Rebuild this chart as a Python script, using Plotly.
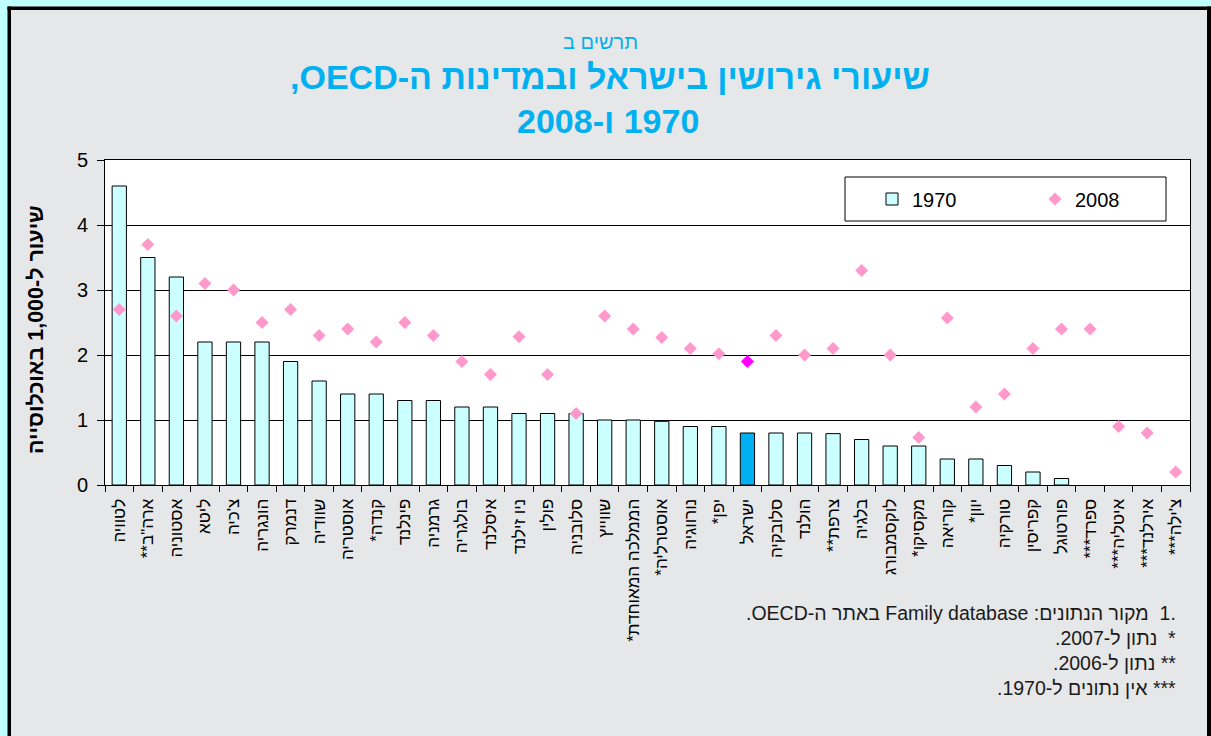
import plotly.graph_objects as go

countries = ["לטוויה", "ארה\"ב**", "אסטוניה", "ליטא", "צ'כיה", "הונגריה", "דנמרק", "שוודיה",
             "אוסטריה", "קנדה*", "פינלנד", "גרמניה", "בולגריה", "איסלנד", "ניו זילנד", "פולין",
             "סלובניה", "שווייץ", "הממלכה המאוחדת*", "אוסטרליה*", "נורווגיה", "יפן*", "ישראל",
             "סלובקיה", "הולנד", "צרפת**", "בלגיה", "לוקסמבורג", "מקסיקו*", "קוריאה", "יוון*",
             "טורקיה", "קפריסין", "פורטוגל", "ספרד***", "איטליה***", "אירלנד***", "צ'ילה***"]
v1970 = [4.6, 3.5, 3.2, 2.2, 2.2, 2.2, 1.9, 1.6, 1.4, 1.4, 1.3, 1.3, 1.2, 1.2, 1.1, 1.1, 1.1,
         1.0, 1.0, 0.98, 0.9, 0.9, 0.8, 0.8, 0.8, 0.79, 0.7, 0.6, 0.6, 0.4, 0.4, 0.3, 0.2, 0.1,
         None, None, None, None]
v2008 = [2.7, 3.7, 2.6, 3.1, 3.0, 2.5, 2.7, 2.3, 2.4, 2.2, 2.5, 2.3, 1.9, 1.7, 2.28, 1.7, 1.1,
         2.6, 2.4, 2.27, 2.1, 2.02, 1.9, 2.3, 2.0, 2.1, 3.3, 2.0, 0.73, 2.57, 1.2, 1.4, 2.1, 2.4,
         2.4, 0.9, 0.8, 0.2]
highlight = "ישראל"
series_names = ["1970", "2008"]
y_ticks = [0, 1, 2, 3, 4, 5]

subtitle = "תרשים ב"
title1 = "שיעורי גירושין בישראל ובמדינות ה-OECD,"
title2 = "1970 ו-2008"
y_title = "שיעור ל-1,000 באוכלוסייה"
footnotes = ["\u200E1.\u200E  מקור הנתונים: Family database באתר ה-OECD.",
             "*  נתון ל-2007.",
             "** נתון ל-2006.",
             "*** אין נתונים ל-1970."]

RLE, PDF = "\u202B", "\u202C"
def rtl(s):
    return RLE + s + PDF

labels = [rtl(c) for c in countries]

W, H = 1211, 736
L, R, T, B = 105, 1190, 160, 485
def px(x):
    return (x - L) / (R - L)
def py(y):
    return (B - y) / (B - T)

BAR = "#CCFFFF"
BAR_HI = "#00B0F0"
DIA = "#FF99CC"
DIA_HI = "#FF00FF"
CYAN_T = "#00B0F0"
FONT = "Arial, Liberation Sans, DejaVu Sans, sans-serif"

fig = go.Figure()
fig.add_trace(go.Bar(
    x=labels, y=v1970, name=series_names[0],
    marker=dict(color=[BAR_HI if c == highlight else BAR for c in countries],
                line=dict(color="black", width=1)),
))
fig.add_trace(go.Scatter(
    x=labels, y=v2008, name=series_names[1], mode="markers",
    marker=dict(symbol="diamond", size=10,
                color=[DIA_HI if c == highlight else DIA for c in countries]),
))

shapes = [
    # legend box
    dict(type="rect", xref="paper", yref="paper", x0=px(845), x1=px(1166), y0=py(221), y1=py(177),
         fillcolor="white", line=dict(color="black", width=1), layer="above"),
    # outer frame
    dict(type="rect", xref="paper", yref="paper", x0=px(0), x1=px(7.5), y0=py(736), y1=py(0),
         fillcolor="#C0FFFF", line=dict(width=0), layer="above"),
    dict(type="rect", xref="paper", yref="paper", x0=px(0), x1=px(1211), y0=py(6.5), y1=py(0),
         fillcolor="#C0FFFF", line=dict(width=0), layer="above"),
    dict(type="rect", xref="paper", yref="paper", x0=px(7.5), x1=px(11), y0=py(736), y1=py(6.5),
         fillcolor="black", line=dict(width=0), layer="above"),
    dict(type="rect", xref="paper", yref="paper", x0=px(7.5), x1=px(1211), y0=py(10), y1=py(6.5),
         fillcolor="black", line=dict(width=0), layer="above"),
    dict(type="rect", xref="paper", yref="paper", x0=px(1207), x1=px(1211), y0=py(736), y1=py(6.5),
         fillcolor="black", line=dict(width=0), layer="above"),
]

annotations = [
    dict(text=rtl(subtitle), x=px(600), y=py(42), xref="paper", yref="paper", showarrow=False,
         xanchor="center", yanchor="middle", font=dict(size=20, color=CYAN_T, family=FONT)),
    dict(text="<b>" + rtl(title1) + "</b>", x=px(610), y=py(77), xref="paper", yref="paper",
         showarrow=False, xanchor="center", yanchor="middle",
         font=dict(size=34, color=CYAN_T, family=FONT)),
    dict(text="<b>" + rtl(title2) + "</b>", x=px(608), y=py(121), xref="paper", yref="paper",
         showarrow=False, xanchor="center", yanchor="middle",
         font=dict(size=34, color=CYAN_T, family=FONT)),
    dict(text="<b>" + rtl(y_title) + "</b>", x=px(36), y=py(330), xref="paper", yref="paper",
         showarrow=False, textangle=-90, xanchor="center", yanchor="middle",
         font=dict(size=21.5, color="black", family=FONT)),
]
for i, fn in enumerate(footnotes):
    annotations.append(dict(text=rtl(fn), x=px(1178), y=py(613 + 25 * i), xref="paper", yref="paper",
                            showarrow=False, xanchor="right", yanchor="middle",
                            font=dict(size=19.5, color="#1a1a1a", family=FONT)))

fig.update_layout(
    width=W, height=H, autosize=False,
    margin=dict(l=L, r=W - R, t=T, b=H - B, autoexpand=False),
    paper_bgcolor="#E6E7E9", plot_bgcolor="white",
    font=dict(family=FONT, color="black"),
    bargap=0.5,
    showlegend=True,
    legend=dict(orientation="h", x=px(872), y=py(199), xanchor="left", yanchor="middle",
                bgcolor="rgba(0,0,0,0)", borderwidth=0, font=dict(size=20, color="black"),
                entrywidth=118, entrywidthmode="pixels", traceorder="normal"),
    shapes=shapes, annotations=annotations,
    xaxis=dict(type="category", range=[-0.5, len(countries) - 0.5], autorange=False,
               tickangle=-90, tickfont=dict(size=17, color="black"),
               showline=True, linecolor="black", linewidth=1, mirror=True,
               ticks="outside", ticklen=6, tickcolor="black", tickson="boundaries",
               ticklabelstandoff=6,
               showgrid=False, automargin=False, fixedrange=True),
    yaxis=dict(range=[0, 5], tickvals=y_ticks, tickfont=dict(size=20, color="black"),
               showline=True, linecolor="black", linewidth=1, mirror=True,
               ticks="outside", ticklen=7, tickcolor="black", ticklabelstandoff=5,
               showgrid=True, gridcolor="black", gridwidth=1, zeroline=False,
               automargin=False, fixedrange=True),
)

fig.write_html("out.html", config={"displayModeBar": False},
               post_script="document.body.style.margin='0';document.body.style.overflow='hidden';")
